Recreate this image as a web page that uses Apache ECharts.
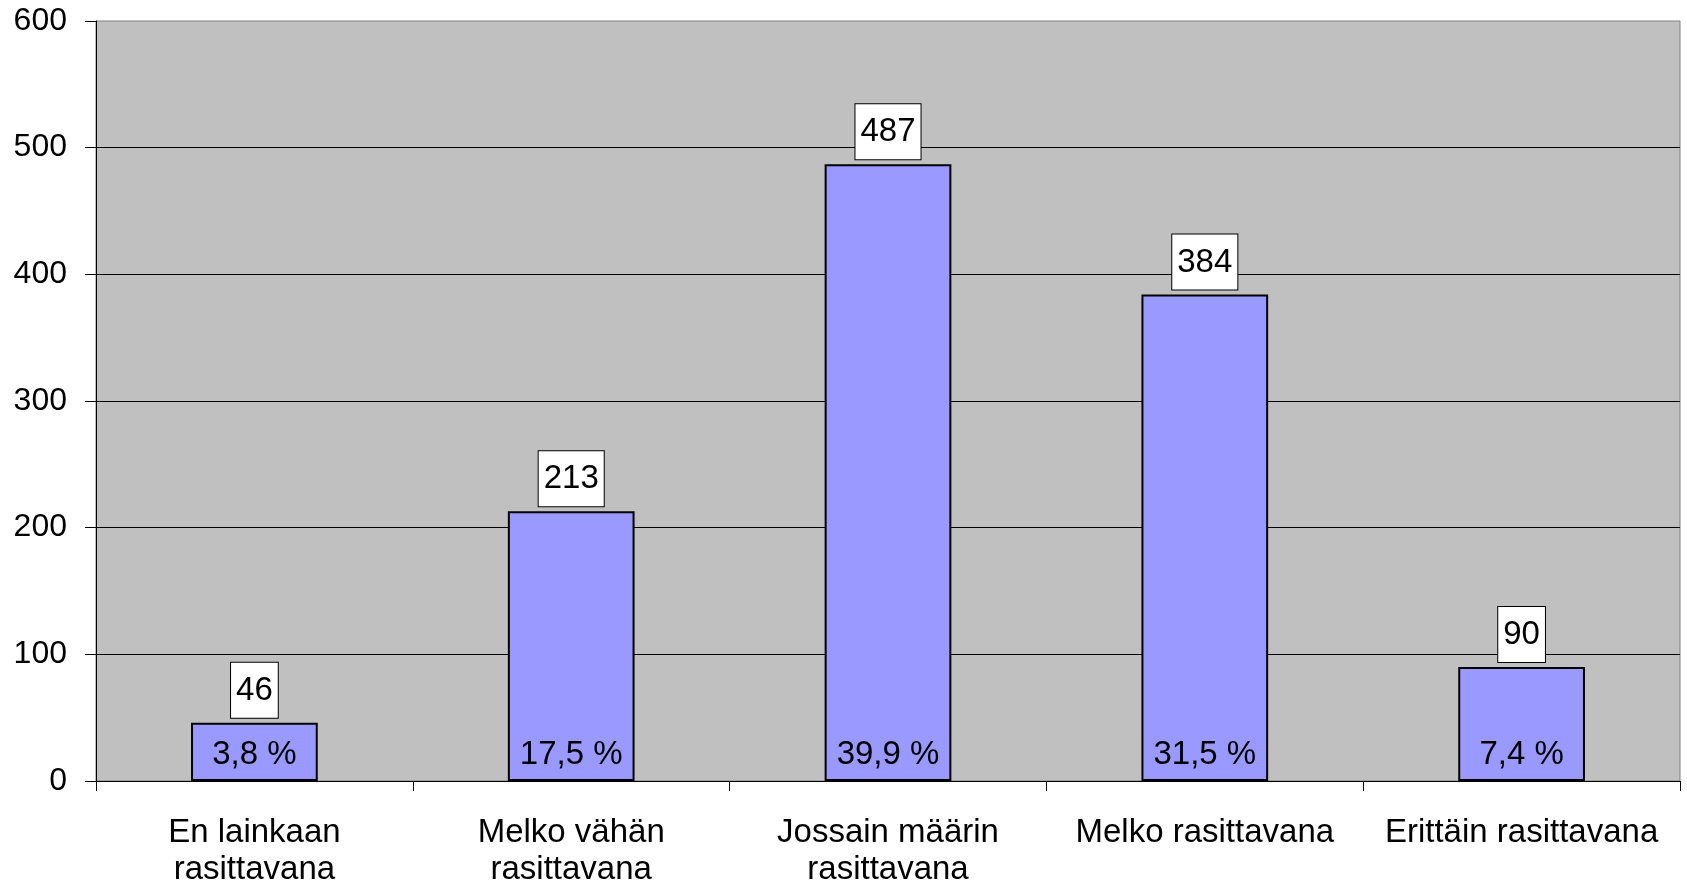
<!DOCTYPE html>
<html>
<head>
<meta charset="utf-8">
<script src="https://cdn.jsdelivr.net/npm/echarts@6/dist/echarts.min.js"></script>
<style>
  html, body { margin: 0; padding: 0; background: #fff; }
  #chart { width: 1687px; height: 889px; }
</style>
</head>
<body>
<div id="chart"></div>
<script>
const categories = [
  'En lainkaan\nrasittavana',
  'Melko vähän\nrasittavana',
  'Jossain määrin\nrasittavana',
  'Melko rasittavana',
  'Erittäin rasittavana'
]
const counts = [46, 213, 487, 384, 90]
const percents = ['3,8 %', '17,5 %', '39,9 %', '31,5 %', '7,4 %']
const yTicks = [0, 100, 200, 300, 400, 500, 600]

const font = "'Liberation Sans', Arial, sans-serif"
const chart = echarts.init(document.getElementById('chart'))

chart.setOption({
  backgroundColor: '#ffffff',
  animation: false,
  grid: {
    left: 96,
    right: 7,
    top: 21,
    bottom: 108,
    show: true,
    backgroundColor: '#C0C0C0',
    borderColor: '#808080',
    borderWidth: 1
  },
  xAxis: {
    type: 'category',
    data: categories,
    axisLine: { lineStyle: { color: '#000', width: 1 } },
    axisTick: { show: true, length: 10, lineStyle: { color: '#000' } },
    axisLabel: {
      color: '#000',
      fontFamily: font,
      fontSize: 33,
      lineHeight: 37,
      margin: 33,
      interval: 0
    }
  },
  yAxis: {
    type: 'value',
    min: yTicks[0],
    max: yTicks[yTicks.length - 1],
    interval: 100,
    axisLine: { show: true, lineStyle: { color: '#000', width: 1 } },
    axisTick: { show: true, length: 11, lineStyle: { color: '#000' } },
    axisLabel: {
      color: '#000',
      fontFamily: font,
      fontSize: 32,
      margin: 29
    },
    splitLine: {
      show: true,
      showMaxLine: false,
      lineStyle: { color: '#000', width: 1 }
    }
  },
  series: [
    {
      type: 'bar',
      data: counts,
      barCategoryGap: '60%',
      itemStyle: {
        color: '#9999FF',
        borderColor: '#000',
        borderWidth: 2
      },
      label: {
        show: true,
        position: 'top',
        distance: 5,
        color: '#000',
        fontFamily: font,
        fontSize: 33,
        lineHeight: 36,
        backgroundColor: '#fff',
        borderColor: '#000',
        borderWidth: 1,
        padding: [10, 5, 9, 5]
      }
    },
    {
      // percentage labels sitting inside the bottom of each bar
      type: 'bar',
      data: counts,
      barGap: '-100%',
      barCategoryGap: '60%',
      itemStyle: { color: 'transparent' },
      silent: true,
      z: 5,
      label: {
        show: true,
        position: 'insideBottom',
        distance: 10,
        color: '#000',
        fontFamily: font,
        fontSize: 33,
        formatter: p => percents[p.dataIndex]
      }
    }
  ]
})
</script>
</body>
</html>
